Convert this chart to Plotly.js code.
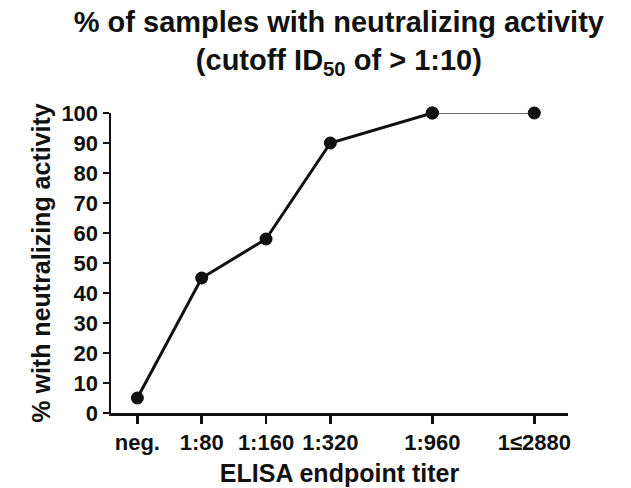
<!DOCTYPE html>
<html>
<head>
<meta charset="utf-8">
<script src="https://cdn.plot.ly/plotly-3.0.1.min.js"></script>
<style>
  html, body { margin: 0; padding: 0; background: #fff; }
  #chart { width: 631px; height: 488px; }
</style>
</head>
<body>
<div id="chart"></div>
<script>
// ELISA titer groups, placed on a log titer axis (neg. drawn at 1:40)
const titerLabels = ['neg.', '1:80', '1:160', '1:320', '1:960', '1\u22642880'];
const titerPos = [40, 80, 160, 320, 960, 2880];
const pctNeutralizing = [5, 45, 58, 90, 100, 100];

const ink = '#111';

// thick line through the first five groups, thin line for the last step
const main = {
  x: titerPos.slice(0, 5),
  y: pctNeutralizing.slice(0, 5),
  mode: 'lines+markers',
  line: { color: ink, width: 3 },
  marker: { color: ink, size: 13 },
  cliponaxis: false,
  hoverinfo: 'skip'
};
const tail = {
  x: titerPos.slice(4),
  y: pctNeutralizing.slice(4),
  mode: 'lines+markers',
  line: { color: '#444', width: 1.5 },
  marker: { color: ink, size: 13 },
  cliponaxis: false,
  hoverinfo: 'skip'
};

const layout = {
  width: 631,
  height: 488,
  margin: { l: 111, r: 63, t: 113, b: 75 },
  paper_bgcolor: '#fff',
  plot_bgcolor: '#fff',
  showlegend: false,
  font: { family: 'Liberation Sans, Arial, sans-serif', color: ink, weight: 'bold' },
  title: {
    text: '% of samples with neutralizing activity<br>(cutoff ID<sub>50</sub> of &gt; 1:10)',
    font: { size: 29, weight: 'bold', color: ink },
    xref: 'container', x: 0.537, xanchor: 'center',
    yref: 'container', y: 0.934, yanchor: 'top'
  },
  xaxis: {
    type: 'log',
    range: [1.4787, 3.6171],
    tickvals: titerPos,
    ticktext: titerLabels,
    tickfont: { size: 22, weight: 'bold' },
    ticks: 'outside', ticklen: 8, tickwidth: 2.5, tickcolor: ink,
    showline: true, linewidth: 2.5, linecolor: ink,
    showgrid: false, zeroline: false,
    title: { text: 'ELISA endpoint titer', font: { size: 25, weight: 'bold' }, standoff: 11 },
    automargin: false
  },
  yaxis: {
    range: [0, 100],
    dtick: 10,
    tickfont: { size: 22, weight: 'bold' },
    ticks: 'outside', ticklen: 6, tickwidth: 2.5, tickcolor: ink,
    showline: true, linewidth: 2.5, linecolor: ink,
    showgrid: false, zeroline: false,
    title: { text: '% with neutralizing activity', font: { size: 25, weight: 'bold' }, standoff: 4 },
    automargin: false
  }
};

Plotly.newPlot('chart', [main, tail], layout, { displayModeBar: false, staticPlot: true });
</script>
</body>
</html>
